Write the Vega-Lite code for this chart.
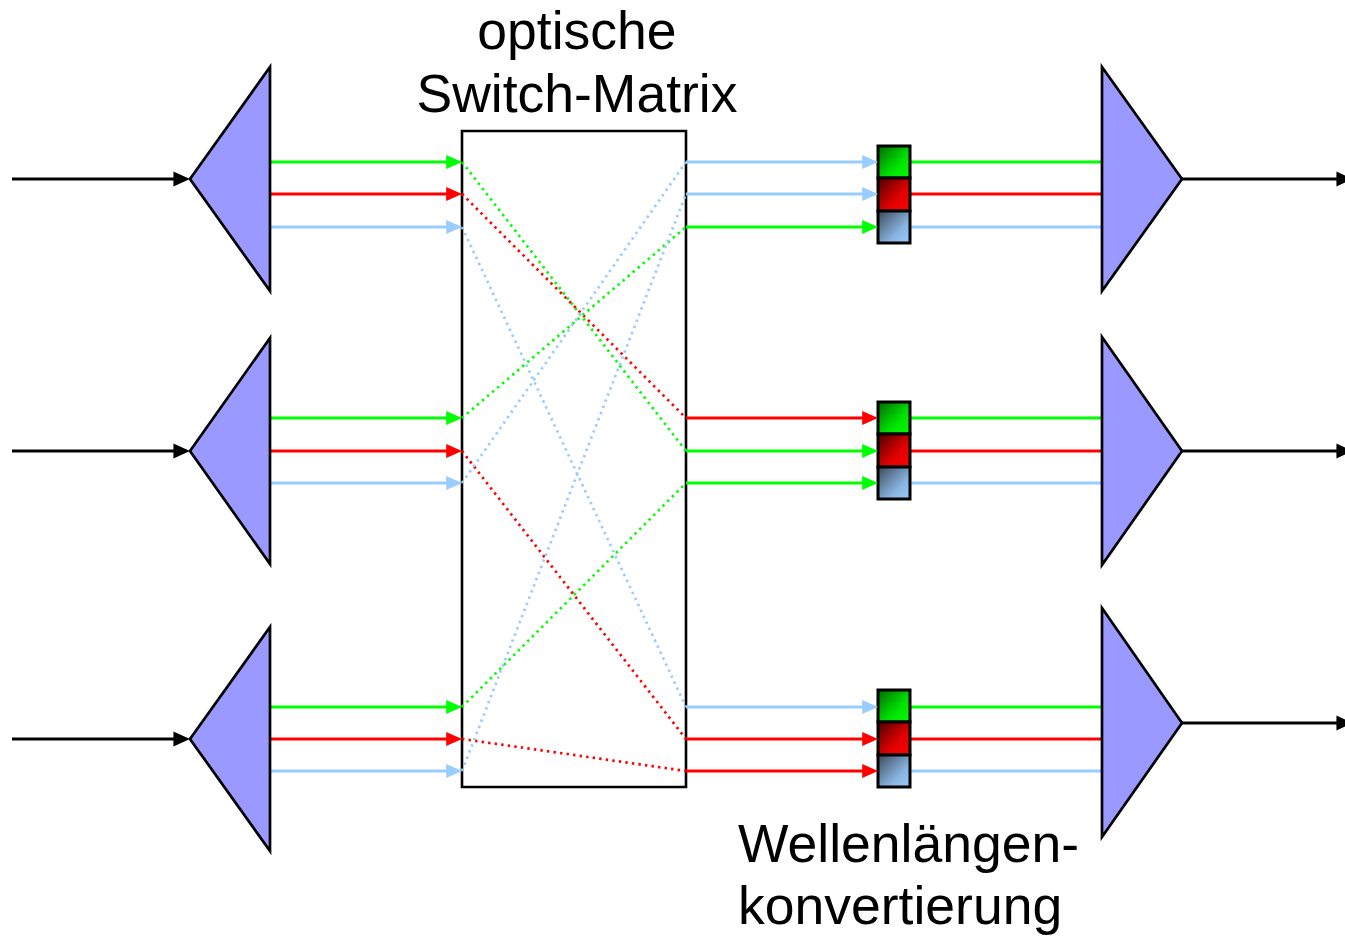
{
  "$schema": "https://vega.github.io/schema/vega-lite/v6.json",
  "width": 1345,
  "height": 936,
  "padding": 0,
  "autosize": {"type": "none"},
  "background": "white",
  "view": {"stroke": null},
  "datasets": {
    "tri": [
      {"id": "L1", "x": 190, "y": 179, "y2": 179}, {"id": "L1", "x": 270, "y": 67, "y2": 291},
      {"id": "L2", "x": 190, "y": 451, "y2": 451}, {"id": "L2", "x": 270, "y": 338, "y2": 564},
      {"id": "L3", "x": 190, "y": 739, "y2": 739}, {"id": "L3", "x": 270, "y": 627, "y2": 851},
      {"id": "R1", "x": 1102, "y": 67, "y2": 291}, {"id": "R1", "x": 1182, "y": 179, "y2": 179},
      {"id": "R2", "x": 1102, "y": 337, "y2": 565}, {"id": "R2", "x": 1182, "y": 451, "y2": 451},
      {"id": "R3", "x": 1102, "y": 608, "y2": 837}, {"id": "R3", "x": 1182, "y": 723, "y2": 723}
    ],
    "seg": [
      {"id": "s1", "k": "solid", "c": "k", "x": 12, "y": 179}, {"id": "s1", "k": "solid", "c": "k", "x": 182, "y": 179},
      {"id": "s2", "k": "solid", "c": "k", "x": 12, "y": 451}, {"id": "s2", "k": "solid", "c": "k", "x": 182, "y": 451},
      {"id": "s3", "k": "solid", "c": "k", "x": 12, "y": 739}, {"id": "s3", "k": "solid", "c": "k", "x": 182, "y": 739},
      {"id": "s4", "k": "solid", "c": "k", "x": 1182, "y": 179}, {"id": "s4", "k": "solid", "c": "k", "x": 1345, "y": 179},
      {"id": "s5", "k": "solid", "c": "k", "x": 1182, "y": 451}, {"id": "s5", "k": "solid", "c": "k", "x": 1345, "y": 451},
      {"id": "s6", "k": "solid", "c": "k", "x": 1182, "y": 723}, {"id": "s6", "k": "solid", "c": "k", "x": 1345, "y": 723},

      {"id": "a1", "k": "solid", "c": "g", "x": 270, "y": 162}, {"id": "a1", "k": "solid", "c": "g", "x": 455, "y": 162},
      {"id": "a2", "k": "solid", "c": "r", "x": 270, "y": 194}, {"id": "a2", "k": "solid", "c": "r", "x": 455, "y": 194},
      {"id": "a3", "k": "solid", "c": "b", "x": 270, "y": 227}, {"id": "a3", "k": "solid", "c": "b", "x": 455, "y": 227},
      {"id": "a4", "k": "solid", "c": "g", "x": 270, "y": 418}, {"id": "a4", "k": "solid", "c": "g", "x": 455, "y": 418},
      {"id": "a5", "k": "solid", "c": "r", "x": 270, "y": 451}, {"id": "a5", "k": "solid", "c": "r", "x": 455, "y": 451},
      {"id": "a6", "k": "solid", "c": "b", "x": 270, "y": 483}, {"id": "a6", "k": "solid", "c": "b", "x": 455, "y": 483},
      {"id": "a7", "k": "solid", "c": "g", "x": 270, "y": 707}, {"id": "a7", "k": "solid", "c": "g", "x": 455, "y": 707},
      {"id": "a8", "k": "solid", "c": "r", "x": 270, "y": 739}, {"id": "a8", "k": "solid", "c": "r", "x": 455, "y": 739},
      {"id": "a9", "k": "solid", "c": "b", "x": 270, "y": 771}, {"id": "a9", "k": "solid", "c": "b", "x": 455, "y": 771},

      {"id": "o1", "k": "solid", "c": "b", "x": 686, "y": 162}, {"id": "o1", "k": "solid", "c": "b", "x": 871, "y": 162},
      {"id": "o2", "k": "solid", "c": "b", "x": 686, "y": 194}, {"id": "o2", "k": "solid", "c": "b", "x": 871, "y": 194},
      {"id": "o3", "k": "solid", "c": "g", "x": 686, "y": 227}, {"id": "o3", "k": "solid", "c": "g", "x": 871, "y": 227},
      {"id": "o4", "k": "solid", "c": "r", "x": 686, "y": 418}, {"id": "o4", "k": "solid", "c": "r", "x": 871, "y": 418},
      {"id": "o5", "k": "solid", "c": "g", "x": 686, "y": 451}, {"id": "o5", "k": "solid", "c": "g", "x": 871, "y": 451},
      {"id": "o6", "k": "solid", "c": "g", "x": 686, "y": 483}, {"id": "o6", "k": "solid", "c": "g", "x": 871, "y": 483},
      {"id": "o7", "k": "solid", "c": "b", "x": 686, "y": 707}, {"id": "o7", "k": "solid", "c": "b", "x": 871, "y": 707},
      {"id": "o8", "k": "solid", "c": "r", "x": 686, "y": 739}, {"id": "o8", "k": "solid", "c": "r", "x": 871, "y": 739},
      {"id": "o9", "k": "solid", "c": "r", "x": 686, "y": 771}, {"id": "o9", "k": "solid", "c": "r", "x": 871, "y": 771},

      {"id": "p1", "k": "solid", "c": "g", "x": 910, "y": 162}, {"id": "p1", "k": "solid", "c": "g", "x": 1102, "y": 162},
      {"id": "p2", "k": "solid", "c": "r", "x": 910, "y": 194}, {"id": "p2", "k": "solid", "c": "r", "x": 1102, "y": 194},
      {"id": "p3", "k": "solid", "c": "b", "x": 910, "y": 227}, {"id": "p3", "k": "solid", "c": "b", "x": 1102, "y": 227},
      {"id": "p4", "k": "solid", "c": "g", "x": 910, "y": 418}, {"id": "p4", "k": "solid", "c": "g", "x": 1102, "y": 418},
      {"id": "p5", "k": "solid", "c": "r", "x": 910, "y": 451}, {"id": "p5", "k": "solid", "c": "r", "x": 1102, "y": 451},
      {"id": "p6", "k": "solid", "c": "b", "x": 910, "y": 483}, {"id": "p6", "k": "solid", "c": "b", "x": 1102, "y": 483},
      {"id": "p7", "k": "solid", "c": "g", "x": 910, "y": 707}, {"id": "p7", "k": "solid", "c": "g", "x": 1102, "y": 707},
      {"id": "p8", "k": "solid", "c": "r", "x": 910, "y": 739}, {"id": "p8", "k": "solid", "c": "r", "x": 1102, "y": 739},
      {"id": "p9", "k": "solid", "c": "b", "x": 910, "y": 771}, {"id": "p9", "k": "solid", "c": "b", "x": 1102, "y": 771},

      {"id": "d1", "k": "dotted", "c": "g", "x": 462, "y": 162}, {"id": "d1", "k": "dotted", "c": "g", "x": 686, "y": 451},
      {"id": "d2", "k": "dotted", "c": "r", "x": 462, "y": 194}, {"id": "d2", "k": "dotted", "c": "r", "x": 686, "y": 418},
      {"id": "d3", "k": "dotted", "c": "b", "x": 462, "y": 227}, {"id": "d3", "k": "dotted", "c": "b", "x": 686, "y": 707},
      {"id": "d4", "k": "dotted", "c": "g", "x": 462, "y": 418}, {"id": "d4", "k": "dotted", "c": "g", "x": 686, "y": 227},
      {"id": "d5", "k": "dotted", "c": "r", "x": 462, "y": 451}, {"id": "d5", "k": "dotted", "c": "r", "x": 686, "y": 739},
      {"id": "d6", "k": "dotted", "c": "b", "x": 462, "y": 483}, {"id": "d6", "k": "dotted", "c": "b", "x": 686, "y": 162},
      {"id": "d7", "k": "dotted", "c": "g", "x": 462, "y": 707}, {"id": "d7", "k": "dotted", "c": "g", "x": 686, "y": 483},
      {"id": "d8", "k": "dotted", "c": "r", "x": 462, "y": 739}, {"id": "d8", "k": "dotted", "c": "r", "x": 686, "y": 771},
      {"id": "d9", "k": "dotted", "c": "b", "x": 462, "y": 771}, {"id": "d9", "k": "dotted", "c": "b", "x": 686, "y": 194}
    ],
    "heads": [
      {"c": "k", "x": 190, "y": 179}, {"c": "k", "x": 190, "y": 451}, {"c": "k", "x": 190, "y": 739},
      {"c": "k", "x": 1353, "y": 179}, {"c": "k", "x": 1353, "y": 451}, {"c": "k", "x": 1353, "y": 723},
      {"c": "g", "x": 462, "y": 162}, {"c": "r", "x": 462, "y": 194}, {"c": "b", "x": 462, "y": 227},
      {"c": "g", "x": 462, "y": 418}, {"c": "r", "x": 462, "y": 451}, {"c": "b", "x": 462, "y": 483},
      {"c": "g", "x": 462, "y": 707}, {"c": "r", "x": 462, "y": 739}, {"c": "b", "x": 462, "y": 771},
      {"c": "b", "x": 878, "y": 162}, {"c": "b", "x": 878, "y": 194}, {"c": "g", "x": 878, "y": 227},
      {"c": "r", "x": 878, "y": 418}, {"c": "g", "x": 878, "y": 451}, {"c": "g", "x": 878, "y": 483},
      {"c": "b", "x": 878, "y": 707}, {"c": "r", "x": 878, "y": 739}, {"c": "r", "x": 878, "y": 771}
    ],
    "box": [
      {"x": 462, "x2": 686, "y": 131, "y2": 787}
    ],
    "conv": [
      {"c": "g", "x": 878, "x2": 910, "y": 146, "y2": 178},
      {"c": "r", "x": 878, "x2": 910, "y": 178, "y2": 211},
      {"c": "b", "x": 878, "x2": 910, "y": 211, "y2": 243},
      {"c": "g", "x": 878, "x2": 910, "y": 402, "y2": 434},
      {"c": "r", "x": 878, "x2": 910, "y": 434, "y2": 467},
      {"c": "b", "x": 878, "x2": 910, "y": 467, "y2": 499},
      {"c": "g", "x": 878, "x2": 910, "y": 690, "y2": 722},
      {"c": "r", "x": 878, "x2": 910, "y": 722, "y2": 755},
      {"c": "b", "x": 878, "x2": 910, "y": 755, "y2": 787}
    ],
    "labels": [
      {"t": "optische", "x": 577, "y": 49, "a": "center"},
      {"t": "Switch-Matrix", "x": 577, "y": 112, "a": "center"},
      {"t": "Wellenlängen-", "x": 738, "y": 862, "a": "left"},
      {"t": "konvertierung", "x": 738, "y": 924, "a": "left"}
    ]
  },
  "encoding": {
    "x": {"field": "x", "type": "quantitative", "scale": {"domain": [0, 1345], "nice": false, "zero": false}, "axis": null},
    "y": {"field": "y", "type": "quantitative", "scale": {"domain": [0, 936], "nice": false, "zero": false, "reverse": true}, "axis": null}
  },
  "layer": [
    {
      "data": {"name": "box"},
      "mark": {"type": "rect", "fill": "white", "stroke": "black", "strokeWidth": 2.6},
      "encoding": {"x2": {"field": "x2"}, "y2": {"field": "y2"}}
    },
    {
      "data": {"name": "seg"},
      "transform": [{"filter": "datum.k === 'dotted'"}],
      "mark": {"type": "line", "strokeWidth": 2.7, "strokeDash": [2.4, 4.2], "strokeCap": "butt"},
      "encoding": {
        "detail": {"field": "id"},
        "color": {"field": "c", "type": "nominal", "scale": {"domain": ["g", "r", "b", "k"], "range": ["#00ff00", "#ff0000", "#99ccff", "#000000"]}, "legend": null}
      }
    },
    {
      "data": {"name": "seg"},
      "transform": [{"filter": "datum.k === 'solid'"}],
      "mark": {"type": "line", "strokeWidth": 2.8, "strokeCap": "butt"},
      "encoding": {
        "detail": {"field": "id"},
        "color": {"field": "c", "type": "nominal", "scale": {"domain": ["g", "r", "b", "k"], "range": ["#00ff00", "#ff0000", "#99ccff", "#000000"]}, "legend": null}
      }
    },
    {
      "data": {"name": "tri"},
      "mark": {"type": "area", "fill": "#9999ff", "stroke": "black", "strokeWidth": 2.7, "strokeJoin": "miter", "opacity": 1},
      "encoding": {"y2": {"field": "y2"}, "detail": {"field": "id"}}
    },
    {
      "data": {"name": "conv"},
      "transform": [{"filter": "datum.c === 'g'"}],
      "mark": {"type": "rect", "stroke": "black", "strokeWidth": 3,
        "fill": {"gradient": "linear", "x1": 0, "y1": 0, "x2": 1, "y2": 1, "stops": [{"offset": 0, "color": "#006a00"}, {"offset": 0.6, "color": "#00e000"}, {"offset": 1, "color": "#00ff00"}]}},
      "encoding": {"x2": {"field": "x2"}, "y2": {"field": "y2"}}
    },
    {
      "data": {"name": "conv"},
      "transform": [{"filter": "datum.c === 'r'"}],
      "mark": {"type": "rect", "stroke": "black", "strokeWidth": 3,
        "fill": {"gradient": "linear", "x1": 0, "y1": 0, "x2": 1, "y2": 1, "stops": [{"offset": 0, "color": "#4a0000"}, {"offset": 0.6, "color": "#e00000"}, {"offset": 1, "color": "#ff0000"}]}},
      "encoding": {"x2": {"field": "x2"}, "y2": {"field": "y2"}}
    },
    {
      "data": {"name": "conv"},
      "transform": [{"filter": "datum.c === 'b'"}],
      "mark": {"type": "rect", "stroke": "black", "strokeWidth": 3,
        "fill": {"gradient": "linear", "x1": 0, "y1": 0, "x2": 1, "y2": 1, "stops": [{"offset": 0, "color": "#3a4858"}, {"offset": 0.65, "color": "#88b4e0"}, {"offset": 1, "color": "#99ccff"}]}},
      "encoding": {"x2": {"field": "x2"}, "y2": {"field": "y2"}}
    },
    {
      "data": {"name": "heads"},
      "transform": [{"filter": "datum.c !== 'k'"}],
      "mark": {"type": "point", "filled": true, "opacity": 1, "size": 1000, "shape": "M0,0L-1,-0.45L-1,0.45Z"},
      "encoding": {
        "color": {"field": "c", "type": "nominal", "scale": {"domain": ["g", "r", "b", "k"], "range": ["#00ff00", "#ff0000", "#99ccff", "#000000"]}, "legend": null}
      }
    },
    {
      "data": {"name": "heads"},
      "transform": [{"filter": "datum.c === 'k'"}],
      "mark": {"type": "point", "filled": true, "opacity": 1, "size": 1100, "shape": "M0,0L-1,-0.45L-1,0.45Z"},
      "encoding": {
        "color": {"field": "c", "type": "nominal", "scale": {"domain": ["g", "r", "b", "k"], "range": ["#00ff00", "#ff0000", "#99ccff", "#000000"]}, "legend": null}
      }
    },
    {
      "data": {"name": "labels"},
      "transform": [{"filter": "datum.a === 'center'"}],
      "mark": {"type": "text", "font": "Liberation Sans", "fontSize": 53.5, "align": "center", "baseline": "alphabetic", "color": "black"},
      "encoding": {"text": {"field": "t"}}
    },
    {
      "data": {"name": "labels"},
      "transform": [{"filter": "datum.a === 'left'"}],
      "mark": {"type": "text", "font": "Liberation Sans", "fontSize": 53.5, "align": "left", "baseline": "alphabetic", "color": "black"},
      "encoding": {"text": {"field": "t"}}
    }
  ]
}
